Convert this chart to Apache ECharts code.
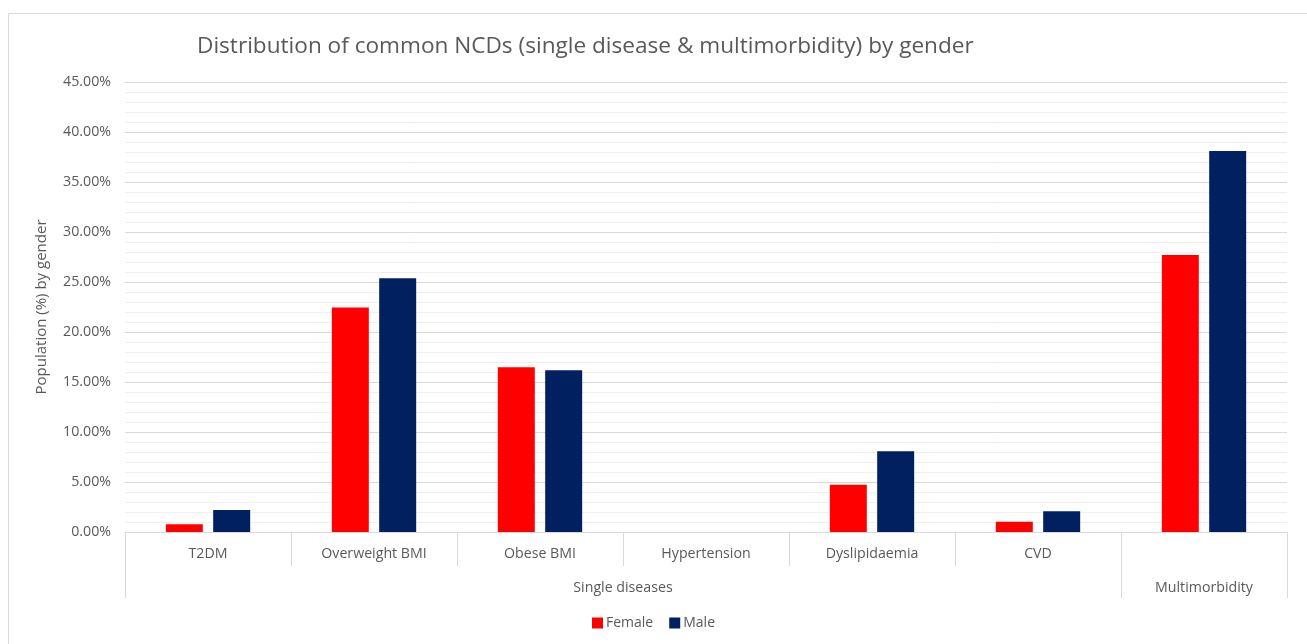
<!DOCTYPE html>
<html>
<head>
<meta charset="utf-8">
<script src="https://cdn.jsdelivr.net/npm/echarts@6/dist/echarts.min.js"></script>
<style>
html,body{margin:0;padding:0;background:#fff;}
#chart{width:1307px;height:644px;}
</style>
</head>
<body>
<div id="chart"></div>
<script>
const categories = ['T2DM', 'Overweight BMI', 'Obese BMI', 'Hypertension', 'Dyslipidaemia', 'CVD', ''];
const groups = [{ name: 'Single diseases', start: 0, end: 6 }, { name: 'Multimorbidity', start: 6, end: 7 }];
const female = [0.78, 22.45, 16.47, 0, 4.72, 1.02, 27.7];
const male = [2.2, 25.37, 16.17, 0, 8.07, 2.07, 38.1];
const yTicks = [0, 5, 10, 15, 20, 25, 30, 35, 40, 45];

const FONT = 'Open Sans';
const TXT = '#595959';

const chart = echarts.init(document.getElementById('chart'));
const groupTicks = [0].concat(groups.map(g => g.end));
const groupLabels = groups.map(g => (g.start + g.end) / 2);

chart.setOption({
  animation: false,
  textStyle: { fontFamily: FONT },
  title: {
    text: 'Distribution of common NCDs (single disease & multimorbidity) by gender',
    left: 192, top: 30,
    textStyle: { fontFamily: FONT, fontSize: 22.6, fontWeight: 'normal', color: TXT }
  },
  graphic: [{
    type: 'rect', shape: { x: 8.5, y: 13.5, width: 1310, height: 700 },
    style: { fill: 'none', stroke: '#D9D9D9', lineWidth: 1 }, silent: true
  }],
  legend: {
    bottom: 9, left: 'center', itemWidth: 11, itemHeight: 11, itemGap: 16,
    icon: 'rect',
    textStyle: { fontFamily: FONT, fontSize: 14, color: TXT, padding: [0, 0, 0, -2] },
    data: ['Female', 'Male']
  },
  grid: { left: 125, right: 20, top: 82, bottom: 112, containLabel: false },
  xAxis: [{
    type: 'category', data: categories, position: 'bottom',
    axisLine: { lineStyle: { color: '#D9D9D9', width: 1 } },
    axisTick: { show: true, length: 34, lineStyle: { color: '#D9D9D9' } },
    axisLabel: { color: TXT, fontSize: 14.2, margin: 15, interval: 0 }
  }, {
    type: 'value', min: 0, max: categories.length, position: 'bottom',
    axisLine: { show: false },
    splitLine: { show: false },
    axisTick: { show: true, length: 66, customValues: groupTicks, lineStyle: { color: '#D9D9D9' } },
    axisLabel: {
      customValues: groupLabels, color: TXT, fontSize: 14.2, margin: 49,
      formatter: function (v) { const g = groups.find(g => (g.start + g.end) / 2 === v); return g ? g.name : ''; }
    }
  }],
  yAxis: {
    type: 'value', min: 0, max: 45, interval: 5,
    name: 'Population (%) by gender', nameLocation: 'middle', nameGap: 76, nameRotate: 90,
    nameTextStyle: { color: TXT, fontSize: 15, fontFamily: FONT },
    axisLine: { show: false }, axisTick: { show: false },
    axisLabel: { color: TXT, fontSize: 14.2, margin: 14, formatter: v => v.toFixed(2) + '%' },
    splitLine: { lineStyle: { color: '#D9D9D9', width: 1 } },
    minorTick: { show: false, splitNumber: 5 },
    minorSplitLine: { show: true, lineStyle: { color: '#EFEFEF', width: 1 } }
  },
  series: [{
    name: 'Female', type: 'bar', data: female, barWidth: 37, barGap: '28%',
    itemStyle: { color: '#FF0000' }
  }, {
    name: 'Male', type: 'bar', data: male, barWidth: 37,
    itemStyle: { color: '#002060' }
  }]
});
</script>
</body>
</html>
